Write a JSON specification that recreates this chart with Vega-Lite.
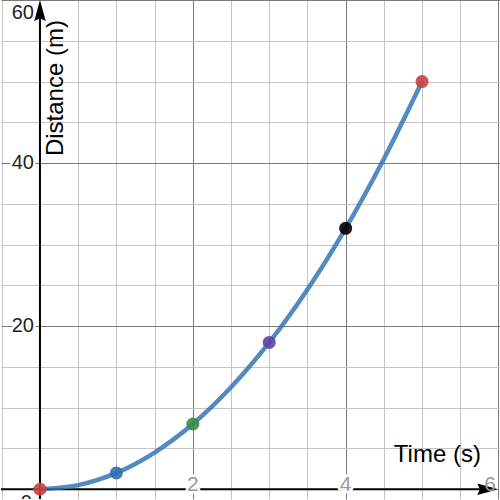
{
  "$schema": "https://vega.github.io/schema/vega-lite/v6.json",
  "width": 500,
  "height": 500,
  "padding": 0,
  "autosize": {"type": "fit", "contains": "padding"},
  "config": {"view": {"stroke": null}, "font": "Liberation Sans"},
  "datasets": {
    "curve": [
      {"x": 0, "y": 0}, {"x": 0.5, "y": 0.5}, {"x": 1, "y": 2}, {"x": 1.5, "y": 4.5},
      {"x": 2, "y": 8}, {"x": 2.5, "y": 12.5}, {"x": 3, "y": 18}, {"x": 3.5, "y": 24.5},
      {"x": 4, "y": 32}, {"x": 4.5, "y": 40.5}, {"x": 5, "y": 50}
    ],
    "points": [
      {"x": 0, "y": 0, "c": "a"}, {"x": 1, "y": 2, "c": "b"}, {"x": 2, "y": 8, "c": "c"},
      {"x": 3, "y": 18, "c": "d"}, {"x": 4, "y": 32, "c": "e"}, {"x": 5, "y": 50, "c": "f"}
    ],
    "vaxis": [{"x": 0, "y": -1.2, "y2": 58}],
    "haxis": [{"x": -0.51, "x2": 5.8, "y": 0}],
    "xlabels": [{"x": 2, "y": 0, "label": "2"}, {"x": 4, "y": 0, "label": "4"}, {"x": 5.89, "y": 0, "label": "6"}],
    "ylabels": [{"x": 0, "y": 20, "label": "20"}, {"x": 0, "y": 40, "label": "40"}, {"x": 0, "y": 58.4, "label": "60"}],
    "zero": [{"x": -0.18, "y": 0, "label": "0"}],
    "xtitle": [{"x": 5.2, "y": 4.2, "label": "Time (s)"}],
    "ytitle": [{"x": 0.21, "y": 49.2, "label": "Distance (m)"}],
    "yarrow": [{"x": 0, "y": 58.7}],
    "xarrow": [{"x": 5.86, "y": 0}]
  },
  "layer": [
    {
      "data": {"name": "vaxis"},
      "mark": {"type": "rule", "color": "#000", "strokeWidth": 2},
      "encoding": {
        "x": {"field": "x", "type": "quantitative", "scale": {"domain": [-0.51, 6.02], "nice": false, "zero": false},
          "axis": {"title": null, "labels": false, "ticks": false, "domain": false, "grid": true,
            "values": [-0.5, 0.5, 1, 1.5, 2, 2.5, 3, 3.5, 4, 4.5, 5, 5.5, 6],
            "gridColor": {"condition": {"test": "datum.value % 2 === 0", "value": "#7a7a7a"}, "value": "#c4c4c4"},
            "gridOpacity": 1, "gridWidth": 1}},
        "y": {"field": "y", "type": "quantitative", "scale": {"domain": [-1.2, 60], "nice": false, "zero": false},
          "axis": {"title": null, "labels": false, "ticks": false, "domain": false, "grid": true,
            "values": [5, 10, 15, 20, 25, 30, 35, 40, 45, 50, 55, 60],
            "gridColor": {"condition": {"test": "datum.value % 20 === 0", "value": "#7a7a7a"}, "value": "#c4c4c4"},
            "gridOpacity": 1, "gridWidth": 1}},
        "y2": {"field": "y2"}
      }
    },
    {
      "data": {"name": "haxis"},
      "mark": {"type": "rule", "color": "#000", "strokeWidth": 2},
      "encoding": {
        "x": {"field": "x", "type": "quantitative"},
        "x2": {"field": "x2"},
        "y": {"field": "y", "type": "quantitative"}
      }
    },
    {
      "data": {"name": "yarrow"},
      "mark": {"type": "point", "filled": true, "opacity": 1, "color": "#000", "shape": "M0,-1L0.55,1L0,0.75L-0.55,1Z", "size": 440, "clip": true},
      "encoding": {
        "x": {"field": "x", "type": "quantitative"},
        "y": {"field": "y", "type": "quantitative"}
      }
    },
    {
      "data": {"name": "curve"},
      "mark": {"type": "line", "color": "#2d70b3", "opacity": 0.82, "strokeWidth": 4.5, "interpolate": "monotone"},
      "encoding": {
        "x": {"field": "x", "type": "quantitative"},
        "y": {"field": "y", "type": "quantitative"}
      }
    },
    {
      "data": {"name": "points"},
      "mark": {"type": "point", "filled": true, "opacity": 0.9, "size": 170, "shape": "circle", "clip": true},
      "encoding": {
        "x": {"field": "x", "type": "quantitative"},
        "y": {"field": "y", "type": "quantitative"},
        "color": {"field": "c", "type": "nominal", "legend": null,
          "scale": {"domain": ["a", "b", "c", "d", "e", "f"], "range": ["#c74440", "#2d70b3", "#388c46", "#6042a6", "#000000", "#c74440"]}}
      }
    },
    {
      "data": {"name": "xlabels"},
      "mark": {"type": "text", "fontSize": 21, "baseline": "alphabetic", "align": "center", "dy": 2, "fill": "#fff", "stroke": "#fff", "strokeWidth": 5, "strokeJoin": "round", "clip": true},
      "encoding": {
        "x": {"field": "x", "type": "quantitative"},
        "y": {"field": "y", "type": "quantitative"},
        "text": {"field": "label"}
      }
    },
    {
      "data": {"name": "xarrow"},
      "mark": {"type": "point", "filled": true, "opacity": 1, "color": "#000", "shape": "M1,0L-1,-0.55L-0.75,0L-1,0.55Z", "size": 440, "clip": true},
      "encoding": {
        "x": {"field": "x", "type": "quantitative"},
        "y": {"field": "y", "type": "quantitative"}
      }
    },
    {
      "data": {"name": "xlabels"},
      "mark": {"type": "text", "fontSize": 21, "baseline": "alphabetic", "align": "center", "dy": 2, "color": "#999", "clip": true},
      "encoding": {
        "x": {"field": "x", "type": "quantitative"},
        "y": {"field": "y", "type": "quantitative"},
        "text": {"field": "label"}
      }
    },
    {
      "data": {"name": "ylabels"},
      "mark": {"type": "text", "fontSize": 20, "baseline": "middle", "align": "right", "dx": -6, "fill": "#fff", "stroke": "#fff", "strokeWidth": 5, "strokeJoin": "round", "clip": true},
      "encoding": {
        "x": {"field": "x", "type": "quantitative"},
        "y": {"field": "y", "type": "quantitative"},
        "text": {"field": "label"}
      }
    },
    {
      "data": {"name": "ylabels"},
      "mark": {"type": "text", "fontSize": 20, "baseline": "middle", "align": "right", "dx": -6, "color": "#222", "clip": true},
      "encoding": {
        "x": {"field": "x", "type": "quantitative"},
        "y": {"field": "y", "type": "quantitative"},
        "text": {"field": "label"}
      }
    },
    {
      "data": {"name": "zero"},
      "mark": {"type": "text", "fontSize": 20, "baseline": "top", "align": "center", "dy": 4, "color": "#222", "clip": true},
      "encoding": {
        "x": {"field": "x", "type": "quantitative"},
        "y": {"field": "y", "type": "quantitative"},
        "text": {"field": "label"}
      }
    },
    {
      "data": {"name": "xtitle"},
      "mark": {"type": "text", "fontSize": 24, "baseline": "middle", "align": "center", "color": "#000", "clip": true},
      "encoding": {
        "x": {"field": "x", "type": "quantitative"},
        "y": {"field": "y", "type": "quantitative"},
        "text": {"field": "label"}
      }
    },
    {
      "data": {"name": "ytitle"},
      "mark": {"type": "text", "fontSize": 24, "baseline": "middle", "align": "center", "angle": 270, "color": "#000", "clip": true},
      "encoding": {
        "x": {"field": "x", "type": "quantitative"},
        "y": {"field": "y", "type": "quantitative"},
        "text": {"field": "label"}
      }
    }
  ]
}
